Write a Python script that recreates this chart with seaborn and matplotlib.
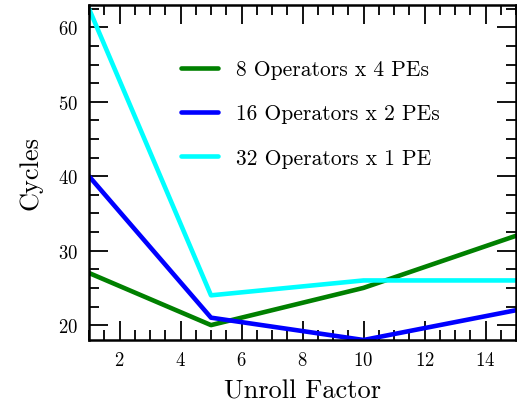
import matplotlib
matplotlib.use("Agg")
import matplotlib.pyplot as plt
import seaborn as sns
import pandas as pd
from matplotlib.ticker import MultipleLocator

unroll = [1, 5, 10, 15]
series_names = ["8 Operators x 4 PEs", "16 Operators x 2 PEs", "32 Operators x 1 PE"]
ops8 = [27, 20, 25, 32]
ops16 = [40, 21, 18, 22]
ops32 = [62.5, 24, 26, 26]
colors = ["green", "blue", "cyan"]

rows = []
for name, vals in zip(series_names, [ops8, ops16, ops32]):
    for x, y in zip(unroll, vals):
        rows.append({"Unroll Factor": x, "Cycles": y, "Series": name})
df = pd.DataFrame(rows)

sns.set_style("ticks")
plt.rcParams["font.family"] = ["serif"]
plt.rcParams["font.serif"] = ["cmr10", "DejaVu Serif"]
plt.rcParams["axes.formatter.use_mathtext"] = True
plt.rcParams["mathtext.fontset"] = "cm"
plt.rcParams["text.color"] = "black"
plt.rcParams["axes.labelcolor"] = "black"

fig = plt.figure(figsize=(5.17, 4.10), dpi=100)
ax = fig.add_axes([89/517, 1 - 341/410, (516-89)/517, (341-6)/410])

sns.lineplot(data=df, x="Unroll Factor", y="Cycles", hue="Series",
             hue_order=series_names, palette=dict(zip(series_names, colors)),
             linewidth=3.3, ax=ax, legend=True)

ax.set_xlim(1, 15)
ax.set_ylim(18, 63)
ax.xaxis.set_major_locator(MultipleLocator(2))
ax.xaxis.set_minor_locator(MultipleLocator(0.5))
ax.yaxis.set_major_locator(MultipleLocator(10))
ax.yaxis.set_minor_locator(MultipleLocator(2.5))
ax.tick_params(which="both", direction="in", top=True, right=True, labelsize=13.5,
               width=1.3, pad=8, color="black", labelcolor="black")
ax.tick_params(which="major", length=14)
ax.tick_params(which="minor", length=7)
for s in ax.spines.values():
    s.set_linewidth(1.8)
    s.set_color("black")

ax.set_xlabel("Unroll Factor", fontsize=19, labelpad=7)
ax.set_ylabel("Cycles", fontsize=19, labelpad=11)

leg = ax.legend(frameon=False, fontsize=15.5, loc="upper left",
                bbox_to_anchor=(0.169, 0.895), handlelength=1.72,
                labelspacing=1.15, handletextpad=0.84)

fig.savefig("out.png", dpi=100)
